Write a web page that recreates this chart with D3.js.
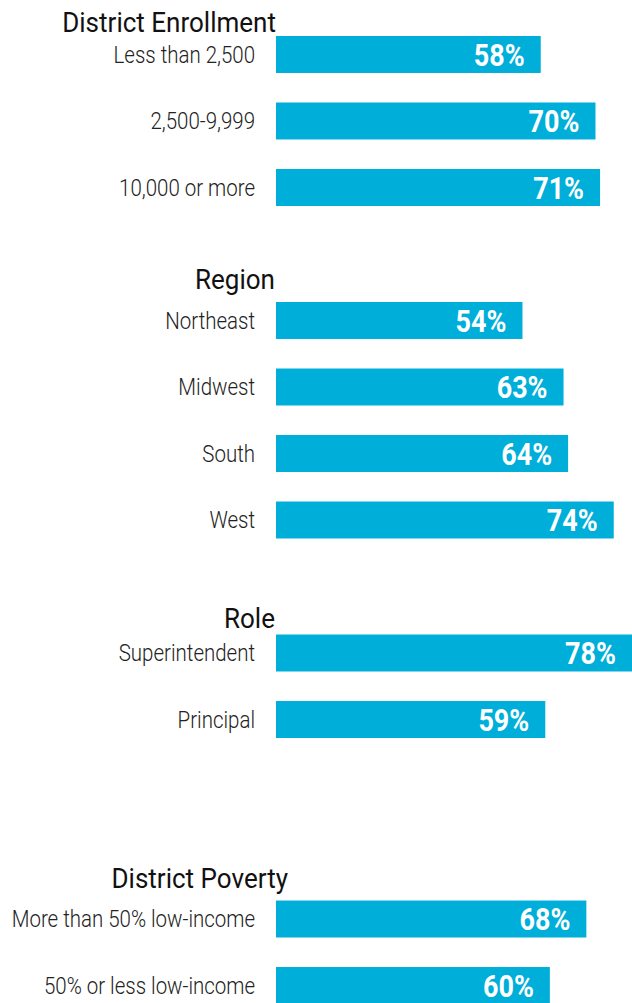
<!DOCTYPE html>
<html>
<head>
<meta charset="utf-8">
<script src="https://cdn.jsdelivr.net/npm/d3@7"></script>
<style>
  body { margin: 0; background: #fff; }
  svg { display: block; }
  .group-title { font-family: Roboto, sans-serif; font-weight: 400; fill: #111; }
  .row-label { font-family: Roboto, sans-serif; font-weight: 300; fill: #222; }
  .value-label { font-family: Roboto, sans-serif; font-weight: 700; fill: #fff; }
</style>
</head>
<body>
<div id="bar-chart"></div>
<script>
// Data
const groupTitles = ["District Enrollment", "Region", "Role", "District Poverty"];
const enrollmentLabels = ["Less than 2,500", "2,500-9,999", "10,000 or more"];
const enrollmentValues = [58, 70, 71];
const regionLabels = ["Northeast", "Midwest", "South", "West"];
const regionValues = [54, 63, 64, 74];
const roleLabels = ["Superintendent", "Principal"];
const roleValues = [78, 59];
const povertyLabels = ["More than 50% low-income", "50% or less low-income"];
const povertyValues = [68, 60];

const groupLabels = [enrollmentLabels, regionLabels, roleLabels, povertyLabels];
const groupValues = [enrollmentValues, regionValues, roleValues, povertyValues];

// Layout
const width = 632;
const height = 1003;
const barLeft = 276;
const labelRight = 255;
const blankSlotsAfter = [1, 1, 2, 0];
const titleLift = [4, 13, 7, 13];
const titleShift = [0, -1, -1, 12];
const barColor = "#00AEDA";

// Build the row slots (blank slots separate the groups)
const slots = [];
groupTitles.forEach((title, g) => {
  groupLabels[g].forEach((label, i) => {
    slots.push({ id: `${g}-${i}`, group: g, index: i, label: label, value: groupValues[g][i] });
  });
  for (let b = 0; b < blankSlotsAfter[g]; b++) {
    slots.push({ id: `blank-${g}-${b}`, blank: true });
  }
});
const rows = slots.filter(d => !d.blank);

// Scales
const xScale = d3.scaleLinear()
  .domain([0, 78])
  .range([barLeft, 632]);

const yScale = d3.scaleBand()
  .domain(slots.map(d => d.id))
  .range([36, 1004])
  .paddingInner(0.444)
  .paddingOuter(0)
  .align(0);

// Container
const svg = d3.select("#bar-chart")
  .append("svg")
    .attr("width", width)
    .attr("height", height);

// Bars
svg.selectAll("rect.bar")
  .data(rows)
  .join("rect")
    .attr("class", "bar")
    .attr("x", xScale(0))
    .attr("y", d => yScale(d.id))
    .attr("width", d => xScale(d.value) - xScale(0))
    .attr("height", yScale.bandwidth())
    .attr("fill", barColor);

// Row labels
svg.selectAll("text.row-label")
  .data(rows)
  .join("text")
    .attr("class", "row-label")
    .attr("transform", d => `translate(${labelRight}, ${yScale(d.id) + yScale.bandwidth() / 2}) scale(0.89, 1)`)
    .attr("text-anchor", "end")
    .attr("dy", "0.35em")
    .style("font-size", "23px")
    .text(d => d.label);

// Value labels
svg.selectAll("text.value-label")
  .data(rows)
  .join("text")
    .attr("class", "value-label")
    .attr("transform", d => `translate(${xScale(d.value) - 16}, ${yScale(d.id) + yScale.bandwidth() / 2}) scale(0.87, 1)`)
    .attr("text-anchor", "end")
    .attr("dy", "0.37em")
    .style("font-size", "31px")
    .text(d => `${d.value}%`);

// Group titles
svg.selectAll("text.group-title")
  .data(groupTitles)
  .join("text")
    .attr("class", "group-title")
    .attr("transform", (d, g) => `translate(${barLeft + titleShift[g]}, ${yScale(`${g}-0`) - titleLift[g]}) scale(0.93, 1)`)
    .attr("text-anchor", "end")
    .style("font-size", "28px")
    .text(d => d);
</script>
</body>
</html>
